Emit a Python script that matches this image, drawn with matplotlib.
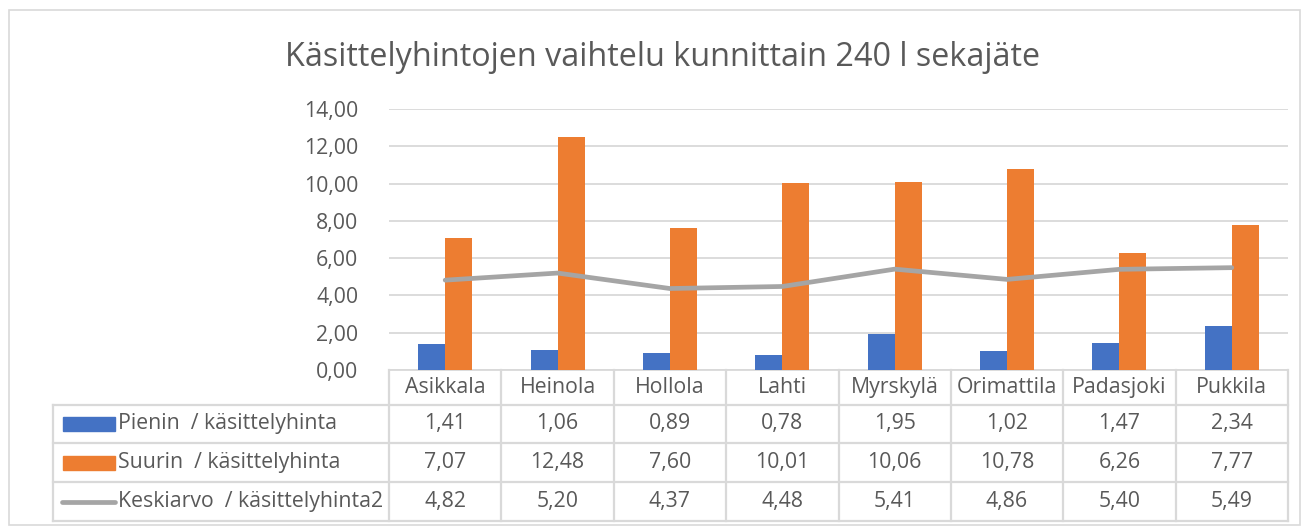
import matplotlib.pyplot as plt
from matplotlib.lines import Line2D
from matplotlib.patches import Rectangle
import numpy as np

plt.rcParams['font.family'] = ['Open Sans', 'DejaVu Sans']

kunnat = ["Asikkala", "Heinola", "Hollola", "Lahti", "Myrskylä",
          "Orimattila", "Padasjoki", "Pukkila"]
pienin = [1.41, 1.06, 0.89, 0.78, 1.95, 1.02, 1.47, 2.34]
suurin = [7.07, 12.48, 7.60, 10.01, 10.06, 10.78, 6.26, 7.77]
keskiarvo = [4.82, 5.20, 4.37, 4.48, 5.41, 4.86, 5.40, 5.49]
sarjat = ["Pienin  / käsittelyhinta", "Suurin  / käsittelyhinta",
          "Keskiarvo  / käsittelyhinta2"]
y_ticks = [0, 2, 4, 6, 8, 10, 12, 14]

BLUE = "#4472C4"
ORANGE = "#ED7D31"
GRAY = "#A5A5A5"
TXT = "#595959"
LINE = "#D9D9D9"
FS = 15.3

W, H = 1305, 526
fig = plt.figure(figsize=(W / 100, H / 100), dpi=100)


def fx(px):
    return px / W


def fy(py):
    return 1 - py / H


def fmt(v):
    return f"{v:.2f}".replace(".", ",")


# plot area in pixels
x0, x1 = 389, 1288
y_top, y_bot = 109, 370
ax = fig.add_axes([fx(x0), fy(y_bot), fx(x1) - fx(x0), fy(y_top) - fy(y_bot)])

n = len(kunnat)
x = np.arange(n)
bw = 0.24
ax.bar(x - bw / 2, pienin, bw, color=BLUE, zorder=3)
ax.bar(x + bw / 2, suurin, bw, color=ORANGE, zorder=3)
ax.plot(x, keskiarvo, color=GRAY, lw=3.4, zorder=4, solid_capstyle="round")

ax.set_xlim(-0.5, n - 0.5)
ax.set_ylim(0, 14)
ax.set_yticks(y_ticks)
ax.set_yticklabels([fmt(v) for v in y_ticks], color=TXT, fontsize=FS)
ax.set_xticks([])
ax.tick_params(axis="y", length=0, pad=22)
ax.grid(axis="y", color=LINE, lw=1.3, zorder=0)
for s in ["top", "right", "left"]:
    ax.spines[s].set_visible(False)
ax.spines["bottom"].set_color(LINE)
ax.spines["bottom"].set_linewidth(1.3)

# title
fig.text(fx(663), fy(57), "Käsittelyhintojen vaihtelu kunnittain 240 l sekajäte",
         ha="center", va="center", fontsize=23.3, color=TXT)

# data table
col_w = (x1 - x0) / n
row_edges = [370, 405, 443, 482, 521]
tbl_left = 53


def hline(px_a, px_b, py):
    fig.add_artist(Line2D([fx(px_a), fx(px_b)], [fy(py), fy(py)],
                          color=LINE, lw=1.6))


def vline(px, py_a, py_b):
    fig.add_artist(Line2D([fx(px), fx(px)], [fy(py_a), fy(py_b)],
                          color=LINE, lw=1.6))


for py in row_edges[1:]:
    hline(tbl_left, x1, py)
vline(tbl_left, row_edges[1], row_edges[4])
for i in range(n + 1):
    vline(x0 + i * col_w, row_edges[0], row_edges[4])

for i, k in enumerate(kunnat):
    cx = x0 + (i + 0.5) * col_w
    fig.text(fx(cx), fy((row_edges[0] + row_edges[1]) / 2), k,
             ha="center", va="center", fontsize=FS, color=TXT)

rows = [pienin, suurin, keskiarvo]
for r, vals in enumerate(rows):
    cy = (row_edges[r + 1] + row_edges[r + 2]) / 2
    for i, v in enumerate(vals):
        cx = x0 + (i + 0.5) * col_w
        fig.text(fx(cx), fy(cy), fmt(v), ha="center", va="center",
                 fontsize=FS, color=TXT)
    fig.text(fx(118), fy(cy), sarjat[r], ha="left", va="center",
             fontsize=FS, color=TXT)

# legend keys
for r, c in enumerate([BLUE, ORANGE]):
    cy = (row_edges[r + 1] + row_edges[r + 2]) / 2
    fig.add_artist(Rectangle((fx(63), fy(cy + 7)), fx(115) - fx(63),
                             fy(cy - 7) - fy(cy + 7), color=c))
cy = (row_edges[3] + row_edges[4]) / 2
fig.add_artist(Line2D([fx(62), fx(115)], [fy(cy), fy(cy)], color=GRAY,
                      lw=3.4, solid_capstyle="round"))

# outer chart border
fig.add_artist(Rectangle((fx(9), fy(525)), fx(1300) - fx(9), fy(10) - fy(525),
                         fill=False, edgecolor=LINE, lw=1.2))

fig.savefig("out.png", dpi=100)
